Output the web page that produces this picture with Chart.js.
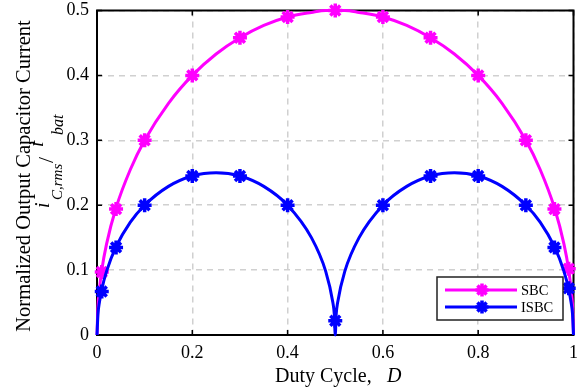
<!DOCTYPE html>
<html>
<head>
<meta charset="utf-8">
<script src="https://cdn.jsdelivr.net/npm/chart.js"></script>
<style>
  html, body { margin: 0; padding: 0; background: #fff; }
  #wrap { width: 584px; height: 389px; }
</style>
</head>
<body>
<div id="wrap"><canvas id="capChart" width="584" height="389"></canvas></div>
<script>
// Curve samples (duty cycle -> normalized current)
const dutyLine = [0, 0.002, 0.005, 0.01, 0.02, 0.04, 0.07, 0.1, 0.15, 0.2, 0.25, 0.3, 0.35, 0.4, 0.45, 0.48, 0.495, 0.498, 0.5,
                  0.502, 0.505, 0.52, 0.55, 0.6, 0.65, 0.7, 0.75, 0.8, 0.85, 0.9, 0.93, 0.96, 0.98, 0.99, 0.995, 0.998, 1];
const sbcLine = [0, 0.045, 0.07, 0.1, 0.14, 0.196, 0.255, 0.3, 0.357, 0.4, 0.433, 0.458, 0.477, 0.49, 0.497, 0.5, 0.5, 0.5, 0.5,
                 0.5, 0.5, 0.5, 0.497, 0.49, 0.477, 0.458, 0.433, 0.4, 0.357, 0.3, 0.255, 0.196, 0.14, 0.1, 0.07, 0.045, 0];
const isbcLine = [0, 0.032, 0.05, 0.07, 0.098, 0.136, 0.174, 0.2, 0.229, 0.245, 0.25, 0.245, 0.229, 0.2, 0.15, 0.098, 0.05, 0.032, 0,
                  0.032, 0.05, 0.098, 0.15, 0.2, 0.229, 0.245, 0.25, 0.245, 0.229, 0.2, 0.174, 0.136, 0.098, 0.07, 0.05, 0.032, 0];

// Marker positions
const dutyMarks = [0.01, 0.04, 0.1, 0.2, 0.3, 0.4, 0.5, 0.6, 0.7, 0.8, 0.9, 0.96, 0.99];
const sbcMarks = [0.097, 0.194, 0.3, 0.4, 0.458, 0.49, 0.5, 0.49, 0.458, 0.4, 0.3, 0.194, 0.102];
const isbcMarks = [0.067, 0.135, 0.2, 0.245, 0.245, 0.2, 0.022, 0.2, 0.245, 0.245, 0.2, 0.135, 0.072];

const xTicks = [0, 0.2, 0.4, 0.6, 0.8, 1];
const yTicks = [0, 0.1, 0.2, 0.3, 0.4, 0.5];

const SERIF = "'Liberation Serif', 'Times New Roman', serif";
const MAGENTA = '#ff00ff';
const BLUE = '#0000ff';

function pts(xs, ys) {
    return xs.map((x, i) => ({ x: x, y: ys[i] }));
}

function drawStar(ctx, x, y, r, color) {
    ctx.save();
    ctx.strokeStyle = color;
    ctx.lineWidth = 3.5;
    ctx.lineCap = 'butt';
    ctx.beginPath();
    for (let k = 0; k < 4; k++) {
        const a = k * Math.PI / 4;
        ctx.moveTo(x - r * Math.cos(a), y - r * Math.sin(a));
        ctx.lineTo(x + r * Math.cos(a), y + r * Math.sin(a));
    }
    ctx.stroke();
    ctx.restore();
}

// frame, inward ticks, titles and legend
const decor = {
    id: 'decor',
    beforeDatasetsDraw(chart) {
        const ctx = chart.ctx;
        const a = chart.chartArea;
        const xs = chart.scales.x, ys = chart.scales.y;
        ctx.save();
        ctx.strokeStyle = '#000';
        ctx.lineWidth = 1.5;
        ctx.beginPath();
        xTicks.forEach(v => {
            const px = xs.getPixelForValue(v);
            ctx.moveTo(px, a.bottom); ctx.lineTo(px, a.bottom - 5);
            ctx.moveTo(px, a.top); ctx.lineTo(px, a.top + 5);
        });
        yTicks.forEach(v => {
            const py = ys.getPixelForValue(v);
            ctx.moveTo(a.left, py); ctx.lineTo(a.left + 5, py);
            ctx.moveTo(a.right, py); ctx.lineTo(a.right - 5, py);
        });
        ctx.stroke();
        ctx.lineWidth = 2;
        ctx.strokeRect(a.left, a.top, a.right - a.left, a.bottom - a.top);
        ctx.restore();
    },
    afterDraw(chart) {
        const ctx = chart.ctx;
        ctx.save();
        ctx.fillStyle = '#000';

        // x title
        ctx.textBaseline = 'alphabetic';
        ctx.textAlign = 'left';
        ctx.font = '20px ' + SERIF;
        ctx.fillText('Duty Cycle,', 275, 382);
        ctx.font = 'italic 20px ' + SERIF;
        ctx.fillText('D', 387, 382);

        // y title, first line
        ctx.save();
        ctx.translate(30, 176);
        ctx.rotate(-Math.PI / 2);
        ctx.textAlign = 'center';
        ctx.font = '20.5px ' + SERIF;
        ctx.fillText('Normalized Output Capacitor Current', 0, 0);
        ctx.restore();

        // y title, second line: i_{C,rms} / i_{bat}
        ctx.save();
        ctx.translate(49, 208);
        ctx.rotate(-Math.PI / 2);
        ctx.textAlign = 'left';
        ctx.font = 'italic 20px ' + SERIF;
        ctx.fillText('i', 0, 0);
        ctx.font = 'italic 15px ' + SERIF;
        ctx.fillText('C,rms', 8, 13);
        ctx.font = '22px ' + SERIF;
        ctx.fillText('/', 45, 4);
        ctx.font = 'italic 20px ' + SERIF;
        ctx.fillText('i', 61, -6);
        ctx.font = 'italic 16px ' + SERIF;
        ctx.fillText('bat', 73, 14);
        ctx.restore();

        // legend
        ctx.fillStyle = '#fff';
        ctx.fillRect(437, 277, 126, 43);
        ctx.strokeStyle = '#222';
        ctx.lineWidth = 1.5;
        ctx.strokeRect(437, 277, 126, 43);
        const rows = [['SBC', MAGENTA, 290], ['ISBC', BLUE, 307]];
        rows.forEach(([label, color, y]) => {
            ctx.strokeStyle = color;
            ctx.lineWidth = 3;
            ctx.beginPath();
            ctx.moveTo(445, y); ctx.lineTo(517, y);
            ctx.stroke();
            drawStar(ctx, 482, y, 6.5, color);
            ctx.fillStyle = '#000';
            ctx.font = '14.5px ' + SERIF;
            ctx.textBaseline = 'middle';
            ctx.fillText(label, 521, y + 1);
        });
        ctx.restore();
    }
};

const ctx = document.getElementById('capChart').getContext('2d');
new Chart(ctx, {
    type: 'line',
    data: {
        datasets: [
            {
                label: 'ISBC markers',
                data: pts(dutyMarks, isbcMarks),
                showLine: false,
                pointStyle: 'star',
                pointRadius: 7,
                pointBorderWidth: 3.5,
                pointBorderColor: BLUE,
                pointBackgroundColor: BLUE,
                order: 0
            },
            {
                label: 'ISBC',
                data: pts(dutyLine, isbcLine),
                borderColor: BLUE,
                borderWidth: 3,
                pointRadius: 0,
                cubicInterpolationMode: 'monotone',
                order: 1
            },
            {
                label: 'SBC markers',
                data: pts(dutyMarks, sbcMarks),
                showLine: false,
                pointStyle: 'star',
                pointRadius: 7,
                pointBorderWidth: 3.5,
                pointBorderColor: MAGENTA,
                pointBackgroundColor: MAGENTA,
                order: 2
            },
            {
                label: 'SBC',
                data: pts(dutyLine, sbcLine),
                borderColor: MAGENTA,
                borderWidth: 3,
                pointRadius: 0,
                cubicInterpolationMode: 'monotone',
                order: 3
            }
        ]
    },
    options: {
        responsive: false,
        animation: false,
        clip: false,
        layout: { padding: { top: 10, right: 3, left: 0, bottom: 0 } },
        plugins: {
            legend: { display: false },
            tooltip: { enabled: false }
        },
        scales: {
            x: {
                type: 'linear',
                min: 0,
                max: 1,
                afterFit: s => { s.height = 54; s.paddingLeft = 0; s.paddingRight = 0; },
                afterBuildTicks: s => { s.ticks = xTicks.map(v => ({ value: v })); },
                ticks: {
                    padding: 7,
                    color: '#000',
                    font: { family: SERIF, size: 18 },
                    callback: v => String(v)
                },
                grid: { color: '#d0d0d0', lineWidth: 1.5, drawTicks: false },
                border: { display: false, dash: [6, 5] }
            },
            y: {
                type: 'linear',
                min: 0,
                max: 0.5,
                afterFit: s => { s.width = 97; s.paddingTop = 0; s.paddingBottom = 0; },
                afterBuildTicks: s => { s.ticks = yTicks.map(v => ({ value: v })); },
                ticks: {
                    padding: 8,
                    color: '#000',
                    font: { family: SERIF, size: 18 },
                    callback: v => String(v)
                },
                grid: { color: '#d0d0d0', lineWidth: 1.5, drawTicks: false },
                border: { display: false, dash: [6, 5] }
            }
        }
    },
    plugins: [decor]
});
</script>
</body>
</html>
